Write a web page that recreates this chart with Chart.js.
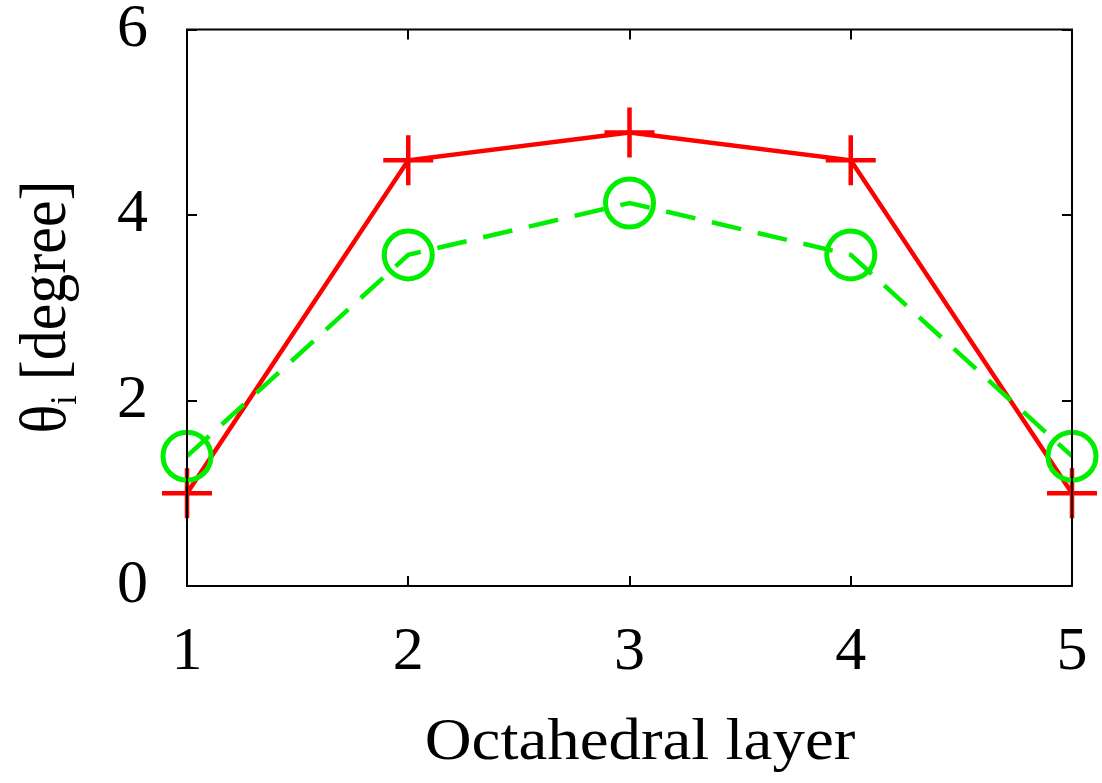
<!DOCTYPE html>
<html>
<head>
<meta charset="utf-8">
<script src="https://cdn.jsdelivr.net/npm/chart.js@4/dist/chart.umd.min.js"></script>
<style>
  html, body { margin: 0; padding: 0; background: #fff; }
  canvas { display: block; }
</style>
</head>
<body>
<canvas id="layerChart" width="1102" height="783"></canvas>
<script>
// octahedral layer index and tilt angle per layer
const layers = [1, 2, 3, 4, 5];
const thetaRed = [1.0, 4.59, 4.89, 4.59, 1.0];
const thetaGreen = [1.40, 3.57, 4.13, 3.57, 1.40];
const xTicks = [1, 2, 3, 4, 5];
const yTicks = [0, 2, 4, 6];

const FONT = 'Liberation Serif, Times New Roman, serif';
const RED = '#ff0000';
const GREEN = '#00ee00';
const STRETCH = 1.1;   // axis titles are set a little wide

const toPoints = ys => layers.map((x, i) => ({ x: x, y: ys[i] }));

// keep the plot box fixed: labels may hang over the edges
const noOverhang = s => {
  s.paddingTop = 0; s.paddingBottom = 0;
  s.paddingLeft = 0; s.paddingRight = 0;
};

// gnuplot-style frame: border plus short inward ticks on all four sides
const framePlugin = {
  id: 'frame',
  afterDatasetsDraw(chart) {
    const { ctx, chartArea: a, scales } = chart;
    const len = 10;
    ctx.save();
    ctx.strokeStyle = '#000';
    ctx.lineWidth = 2;
    ctx.strokeRect(a.left, a.top, a.right - a.left, a.bottom - a.top);
    ctx.beginPath();
    xTicks.forEach(v => {
      const px = Math.round(scales.x.getPixelForValue(v));
      ctx.moveTo(px, a.bottom); ctx.lineTo(px, a.bottom - len);
      ctx.moveTo(px, a.top); ctx.lineTo(px, a.top + len);
    });
    yTicks.forEach(v => {
      const py = Math.round(scales.y.getPixelForValue(v));
      ctx.moveTo(a.left, py); ctx.lineTo(a.left + len, py);
      ctx.moveTo(a.right, py); ctx.lineTo(a.right - len, py);
    });
    ctx.stroke();
    ctx.restore();
  }
};

// axis titles: x title below the ticks, rotated y title with subscript i
const titlePlugin = {
  id: 'axisTitles',
  afterDraw(chart) {
    const { ctx } = chart;
    ctx.save();
    ctx.fillStyle = '#000';
    ctx.textBaseline = 'alphabetic';

    // x title
    ctx.save();
    ctx.font = '59px ' + FONT;
    ctx.textAlign = 'center';
    ctx.translate(640, 759);
    ctx.scale(STRETCH, 1);
    ctx.fillText('Octahedral layer', 0, 0);
    ctx.restore();

    // y title
    const big = '60px ' + FONT;
    const small = '34px ' + FONT;
    ctx.font = big;
    const wTheta = ctx.measureText('\u03b8').width;
    const wRest = ctx.measureText(' [degree]').width;
    ctx.font = small;
    const wSub = ctx.measureText('i').width;
    const total = wTheta + wSub + wRest;
    ctx.translate(65, 307);
    ctx.rotate(-Math.PI / 2);
    ctx.scale(1, STRETCH);
    let x = -total / 2;
    ctx.font = big;
    ctx.fillText('\u03b8', x, 0);
    x += wTheta;
    ctx.font = small;
    ctx.fillText('i', x, 10);
    x += wSub;
    ctx.font = big;
    ctx.fillText(' [degree]', x, 0);
    ctx.restore();
  }
};

new Chart(document.getElementById('layerChart'), {
  type: 'line',
  data: {
    datasets: [
      {
        data: toPoints(thetaRed),
        borderColor: RED,
        borderWidth: 4.5,
        pointStyle: 'cross',
        pointRadius: 25,
        pointBorderWidth: 4.5,
        pointBorderColor: RED,
        pointBackgroundColor: RED,
        order: 1,
        clip: false
      },
      {
        data: toPoints(thetaGreen),
        borderColor: GREEN,
        borderWidth: 4.5,
        borderDash: [30, 17],
        pointStyle: 'circle',
        pointRadius: 24,
        pointBorderWidth: 5,
        pointBorderColor: GREEN,
        pointBackgroundColor: 'rgba(0,0,0,0)',
        order: 0,
        clip: false
      }
    ]
  },
  options: {
    responsive: false,
    animation: false,
    devicePixelRatio: 1,
    layout: { padding: { top: 25, right: 30, left: 0, bottom: 0 } },
    plugins: {
      legend: { display: false },
      tooltip: { enabled: false }
    },
    scales: {
      x: {
        type: 'linear',
        min: 1,
        max: 5,
        afterBuildTicks: s => { s.ticks = xTicks.map(v => ({ value: v })); },
        afterFit: s => { s.height = 197; noOverhang(s); },
        grid: { display: false, drawTicks: false },
        border: { display: false },
        ticks: {
          color: '#000',
          padding: 30,
          font: { family: FONT, size: 62 }
        }
      },
      y: {
        type: 'linear',
        min: 0,
        max: 6,
        afterBuildTicks: s => { s.ticks = yTicks.map(v => ({ value: v })); },
        afterFit: s => { s.width = 187; noOverhang(s); },
        grid: { display: false, drawTicks: false },
        border: { display: false },
        ticks: {
          color: '#000',
          padding: 39,
          font: { family: FONT, size: 62 }
        }
      }
    }
  },
  plugins: [framePlugin, titlePlugin]
});
</script>
</body>
</html>
